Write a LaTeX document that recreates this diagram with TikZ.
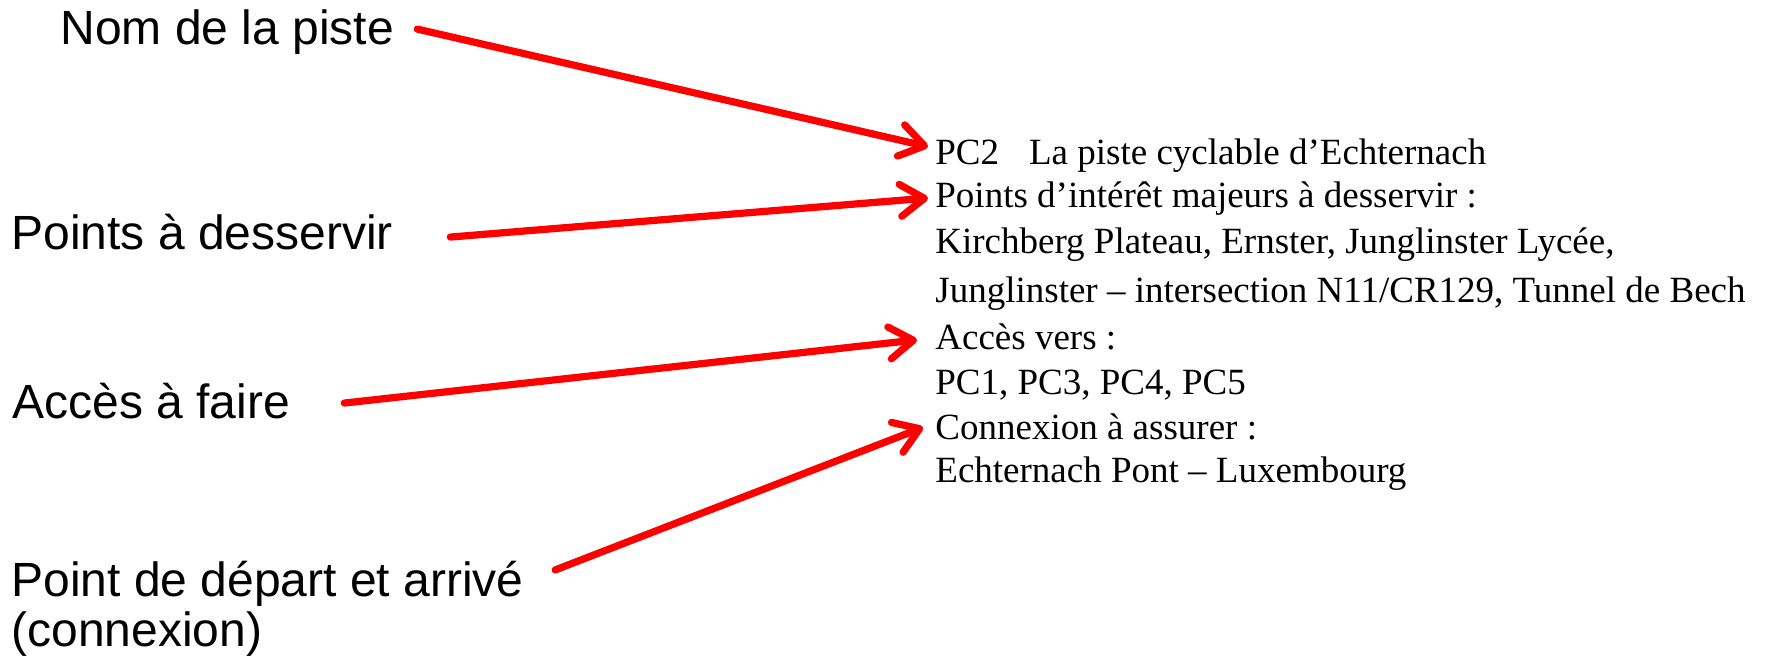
\documentclass[tikz,border=0pt]{standalone}
\usepackage{fontspec}
\setmainfont{Liberation Serif}
\newfontfamily\arialfont{Liberation Sans}
\usetikzlibrary{arrows.meta}

\begin{document}
\begin{tikzpicture}[
x=0.5pt, y=-0.5pt,
champ/.style={font=\arialfont\fontsize{24}{25}\selectfont, anchor=base west, inner sep=0pt},
ligne/.style={font=\fontsize{18.5}{23}\selectfont, anchor=base west, inner sep=0pt},
fleche/.style={draw=red, line width=3.6pt, line cap=round, -{Straight Barb[round, length=12pt, width=16pt]}},
]
\useasboundingbox (0,0) rectangle (1769,657);

% etiquettes a gauche
\node[champ] (nom) at (60,45) {Nom de la piste};
\node[champ] (points) at (11,250) {Points à desservir};
\node[champ] (faire) at (12,419) {Accès à faire};
\node[champ, anchor=north west, align=left] (depart) at (11,561) {Point de départ et arrivé\\(connexion)};

% fiche de la piste
\node[ligne] (pc) at (935,165) {PC2\hspace{15pt}La piste cyclable d’Echternach};
\node[ligne] (interet) at (935,208) {Points d’intérêt majeurs à desservir :};
\node[ligne] (kirch) at (935,254) {Kirchberg Plateau, Ernster, Junglinster Lycée,};
\node[ligne] (jung) at (935,303) {Junglinster – intersection N11/CR129, Tunnel de Bech};
\node[ligne] (acces) at (935,350) {Accès vers :};
\node[ligne] (liste) at (935,395) {PC1, PC3, PC4, PC5};
\node[ligne] (connex) at (935,440) {Connexion à assurer :};
\node[ligne] (pont) at (935,483) {Echternach Pont – Luxembourg};

% fleches
\draw[fleche] ([xshift=11.5pt, yshift=1.75pt]nom.east) -- ([xshift=-3.5pt, yshift=4.75pt]pc.west);
\draw[fleche] ([xshift=28.5pt, yshift=-2.25pt]points.east) -- ([xshift=-3.5pt, yshift=0.5pt]interet.west);
\draw[fleche] ([xshift=27pt, yshift=-0.75pt]faire.east) -- ([xshift=-9pt, yshift=-1.25pt]acces.west);
\draw[fleche] ([xshift=15.5pt, yshift=-4.5pt]depart.north east) -- ([xshift=-6pt]connex.west);
\end{tikzpicture}
\end{document}
